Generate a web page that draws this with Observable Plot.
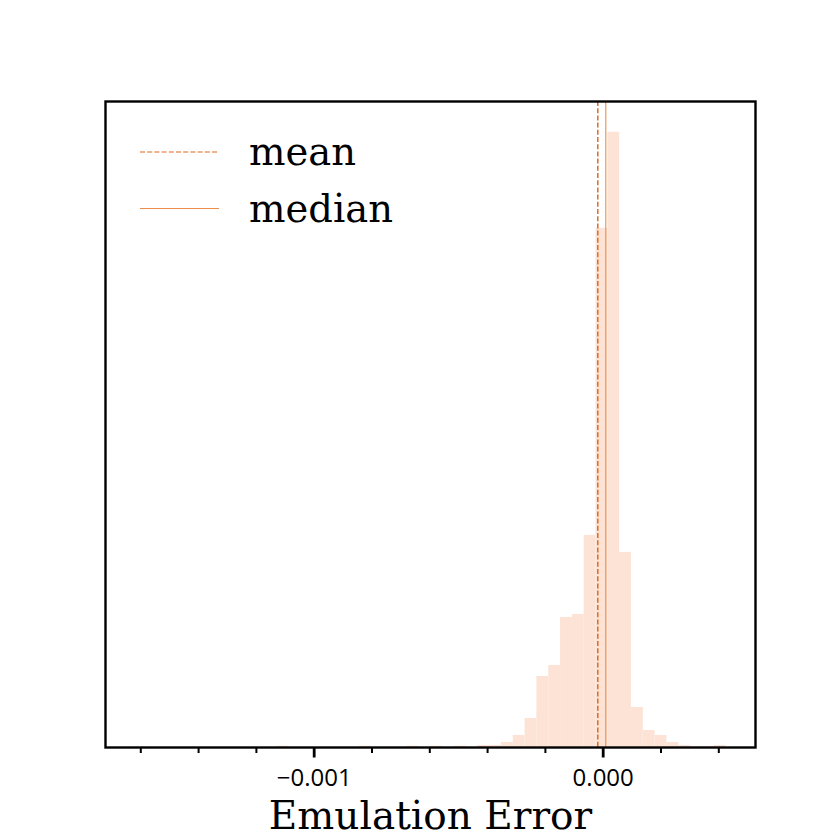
<!DOCTYPE html>
<html>
<head>
<meta charset="utf-8">
<script src="https://cdn.jsdelivr.net/npm/d3@7"></script>
<script src="https://cdn.jsdelivr.net/npm/@observablehq/plot@0.6"></script>
<style>
  html, body { margin: 0; padding: 0; background: #ffffff; }
  #chart svg { display: block; }
</style>
</head>
<body>
<div id="chart"></div>
<script>
// ---- data ----
// histogram: 50 equal-width bins between the data min and max
const binLow = -0.00162;
const binHigh = 0.000425;
const binCounts = [
  0.6, 0, 0, 0, 0, 0, 0, 0, 0, 0,
  0, 0, 1.3, 0, 0, 0, 0, 0, 0, 1.3,
  0, 0, 0, 1.3, 0, 1.3, 0, 1.3, 0, 2,
  2, 5, 12, 29, 71, 82, 130, 133, 212, 519,
  615, 195, 40, 17, 12, 5, 2, 1, 1, 2
];
const meanValue = -0.0000187;
const medianValue = 0.0000090;
const majorTicks = [-0.001, 0.000];
const minorTicks = [-0.0016, -0.0014, -0.0012, -0.0008, -0.0006, -0.0004, -0.0002, 0.0002, 0.0004];
const xDomain = [-0.0017221, 0.000527];
const legendLabels = ["mean", "median"];
const xLabel = "Emulation Error";

// ---- build table ----
const nBins = binCounts.length;
const binW = (binHigh - binLow) / nBins;
const bins = binCounts.map((c, i) => ({x1: binLow + i * binW, x2: binLow + (i + 1) * binW, count: c}));
const yMax = d3.max(binCounts) * 1.05;
const fmt = d3.format(".3f");

const colMean = "#e06a20";
const colMedian = "#ee8d4a";
const barFill = "#fce3d5";

const chart = Plot.plot({
  width: 840,
  height: 840,
  marginLeft: 105,
  marginRight: 85,
  marginTop: 101,
  marginBottom: 93,
  style: {background: "#ffffff", fontFamily: "DejaVu Sans"},
  x: {domain: xDomain, axis: null},
  y: {domain: [0, yMax], axis: null},
  marks: [
    Plot.rectY(bins, {x1: "x1", x2: "x2", y1: 0, y2: "count", fill: barFill, inset: 0}),
    Plot.ruleX([meanValue], {stroke: colMean, strokeWidth: 1.5, strokeDasharray: "5,2.2"}),
    Plot.ruleX([medianValue], {stroke: colMedian, strokeWidth: 1.1}),
    // tick marks (minor and major) hanging below the frame
    Plot.ruleX(minorTicks, {x: d => d, y1: 0, y2: 0, insetTop: 0, insetBottom: -6, stroke: "#000", strokeWidth: 2}),
    Plot.ruleX(majorTicks, {x: d => d, y1: 0, y2: 0, insetTop: 0, insetBottom: -10.5, stroke: "#000", strokeWidth: 2.8}),
    Plot.text(majorTicks, {x: d => d, text: d => fmt(d), frameAnchor: "bottom", lineAnchor: "top", dy: 21,
      fontSize: 24, fontFamily: "Open Sans", fill: "#000"}),
    Plot.text([xLabel], {frameAnchor: "bottom", dy: 81.5, fontSize: 39, fontFamily: "DejaVu Serif", fill: "#000", text: d => d}),
    Plot.frame({stroke: "#000", strokeWidth: 2.4})
  ]
});

document.getElementById("chart").appendChild(chart);

// ---- legend ----
const svg = d3.select(chart);
const leg = svg.append("g").attr("text-anchor", "start");
const legRows = [
  {label: legendLabels[0], stroke: colMean, dash: "5,2.2", width: 1.2, ly: 152, ty: 165},
  {label: legendLabels[1], stroke: colMedian, dash: null, width: 1, ly: 208.5, ty: 221.5}
];
legRows.forEach(r => {
  leg.append("line")
    .attr("x1", 140).attr("x2", 219)
    .attr("y1", r.ly).attr("y2", r.ly)
    .attr("stroke", r.stroke).attr("stroke-width", r.width)
    .attr("stroke-dasharray", r.dash);
  leg.append("text")
    .attr("x", 249).attr("y", r.ty)
    .attr("text-anchor", "start")
    .attr("font-family", "DejaVu Serif").attr("font-size", 38.5)
    .attr("fill", "#000")
    .text(r.label);
});
</script>
</body>
</html>
